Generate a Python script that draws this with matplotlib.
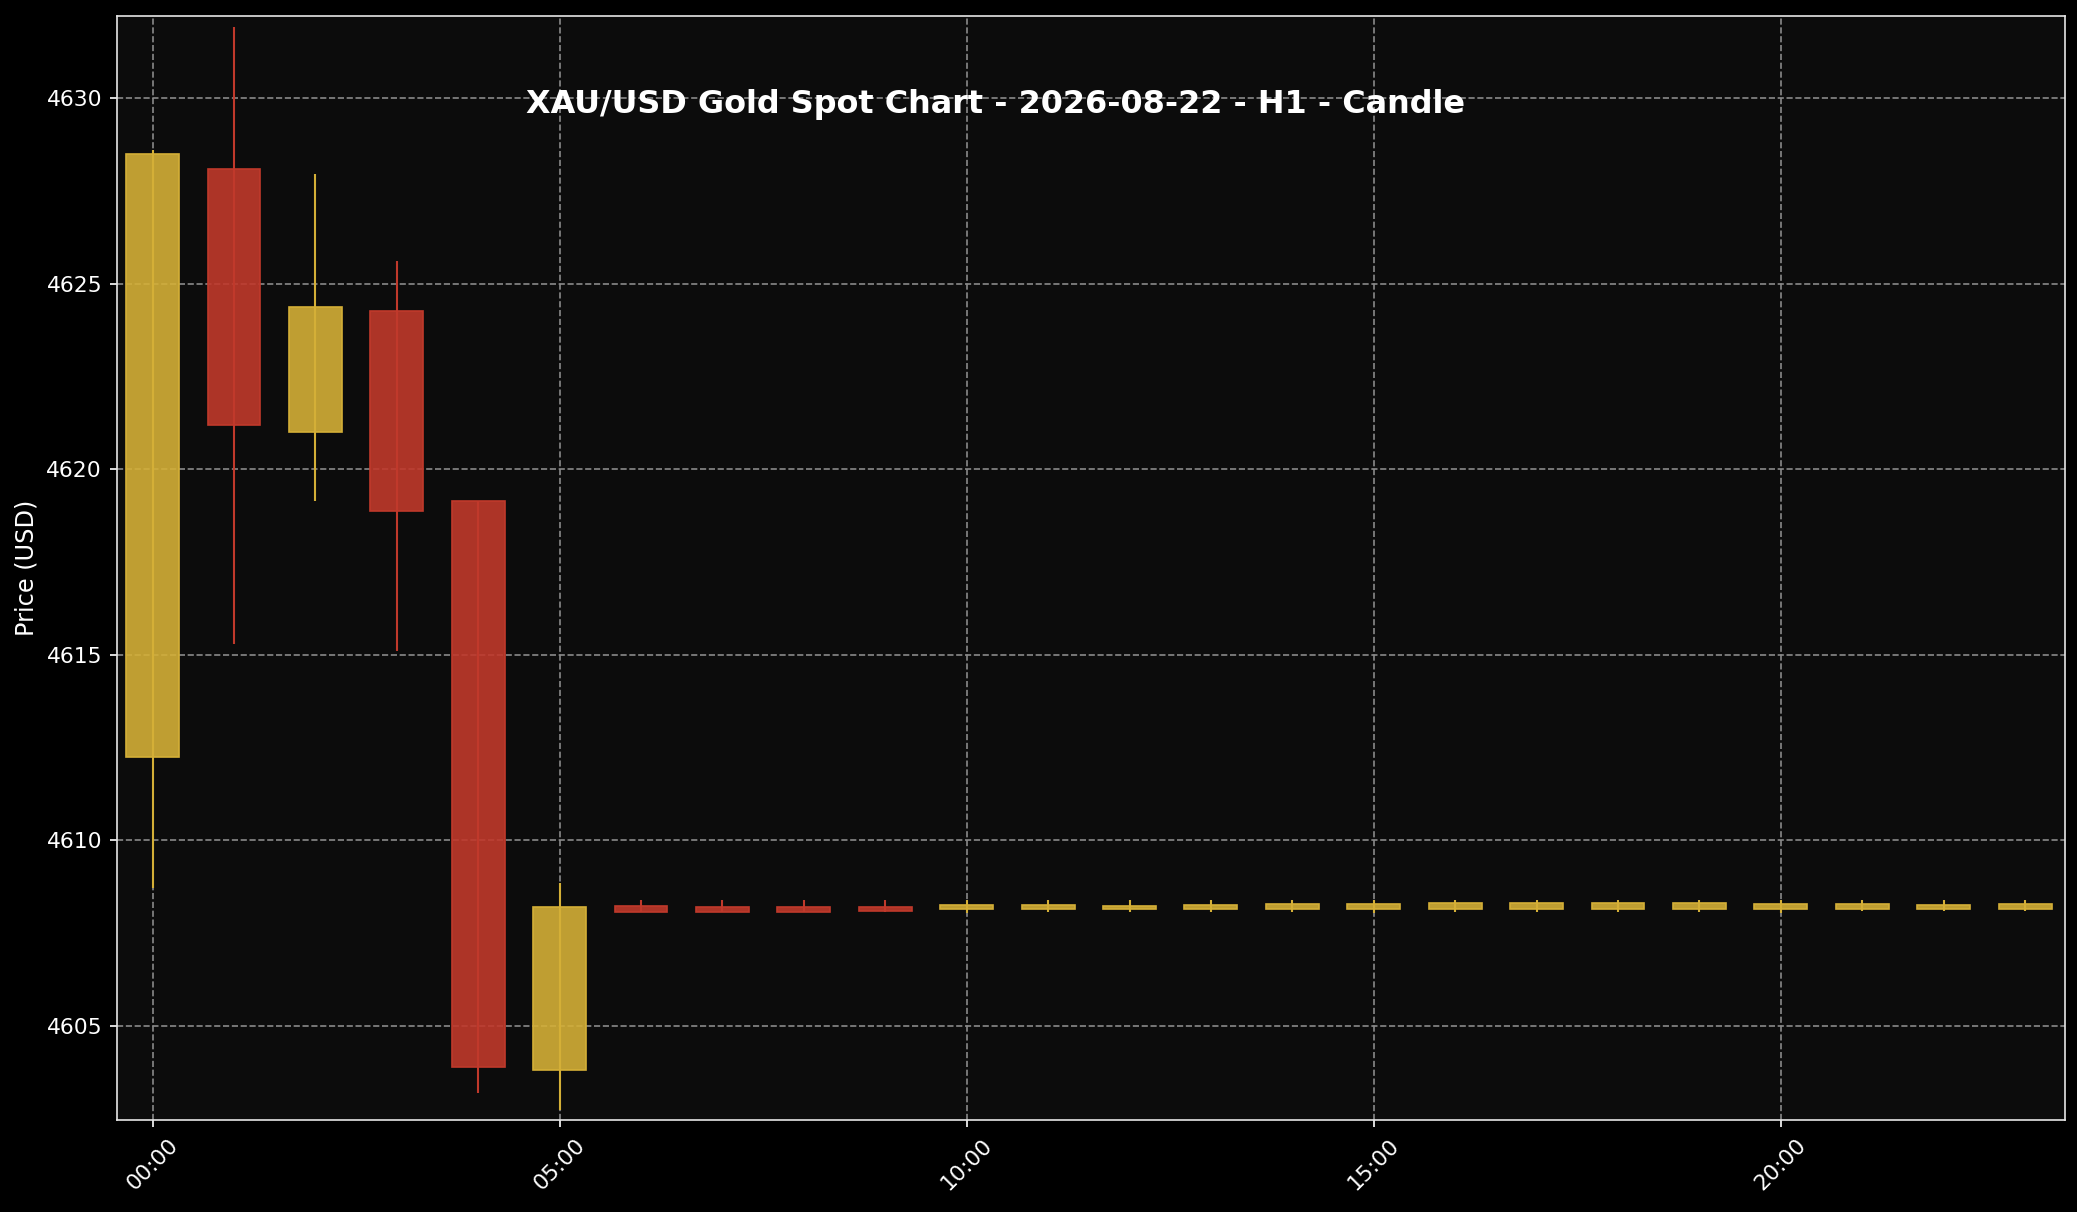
import numpy as np
import matplotlib
matplotlib.use('Agg')
import matplotlib.pyplot as plt
from matplotlib.colors import to_rgba

#%% data (H1 candles, 2026-08-22)

hours = np.arange(24)
opens = [4612.23, 4628.08, 4621.01, 4624.25, 4619.14, 4603.79,
         4608.21, 4608.19, 4608.19, 4608.19, 4608.14, 4608.14,
         4608.14, 4608.14, 4608.14, 4608.14, 4608.14, 4608.14,
         4608.14, 4608.14, 4608.14, 4608.14, 4608.14, 4608.14]
closes = [4628.48, 4621.19, 4624.36, 4618.86, 4603.89, 4608.19,
          4608.07, 4608.07, 4608.07, 4608.10, 4608.25, 4608.25,
          4608.22, 4608.26, 4608.28, 4608.28, 4608.31, 4608.31,
          4608.31, 4608.31, 4608.28, 4608.28, 4608.26, 4608.28]
highs = [4628.60, 4631.91, 4627.95, 4625.61, 4619.14, 4608.83,
         4608.38, 4608.38, 4608.38, 4608.38, 4608.38, 4608.38,
         4608.38, 4608.38, 4608.38, 4608.38, 4608.38, 4608.38,
         4608.38, 4608.38, 4608.38, 4608.38, 4608.38, 4608.38]
lows = [4608.71, 4615.29, 4619.14, 4615.09, 4603.19, 4602.73,
        4608.07, 4608.07, 4608.07, 4608.06, 4608.03, 4608.05,
        4608.06, 4608.06, 4608.06, 4608.04, 4608.06, 4608.06,
        4608.06, 4608.06, 4608.04, 4608.08, 4608.08, 4608.08]
tick_hours = [0, 5, 10, 15, 20]
tick_labels = ['00:00', '05:00', '10:00', '15:00', '20:00']

opens = np.asarray(opens)
closes = np.asarray(closes)
highs = np.asarray(highs)
lows = np.asarray(lows)

#%% plot

gold = '#D4AF37'
red = '#C0392B'
up = closes >= opens
edge = [gold if u else red for u in up]
face = [to_rgba(c, 0.9) for c in edge]

fig = plt.figure(figsize=(2077/150, 1212/150), dpi=150, facecolor='black')
ax = fig.add_axes([0.0562, 0.0755, 0.938, 0.9115])
ax.set_facecolor('#0c0c0c')

ax.vlines(hours, lows, highs, colors=edge, linewidth=1.0, zorder=2)
ax.bar(hours, closes - opens, bottom=opens, width=0.65, color=face,
       edgecolor=edge, linewidth=0.8, zorder=3)

ax.set_xlim([-0.44, 23.49])
ax.set_ylim([4602.44, 4632.22])
ax.set_xticks(tick_hours)
ax.set_xticklabels(tick_labels, rotation=45)
ax.set_yticks([4605, 4610, 4615, 4620, 4625, 4630])

ax.set_axisbelow(True)
ax.grid(True, color='#8a8a8a', linestyle='--', linewidth=0.8)
for s in ax.spines.values():
    s.set_color('#e6e6e6')
ax.tick_params(colors='white', labelsize=10.5)
ax.set_ylabel('Price (USD)', color='white', fontsize=11.5)

fig.text(0.4795, 0.914, 'XAU/USD Gold Spot Chart - 2026-08-22 - H1 - Candle',
         color='white', fontsize=15.3, fontweight='bold', ha='center', va='center')

plt.savefig('out.png', dpi=150, facecolor='black')
